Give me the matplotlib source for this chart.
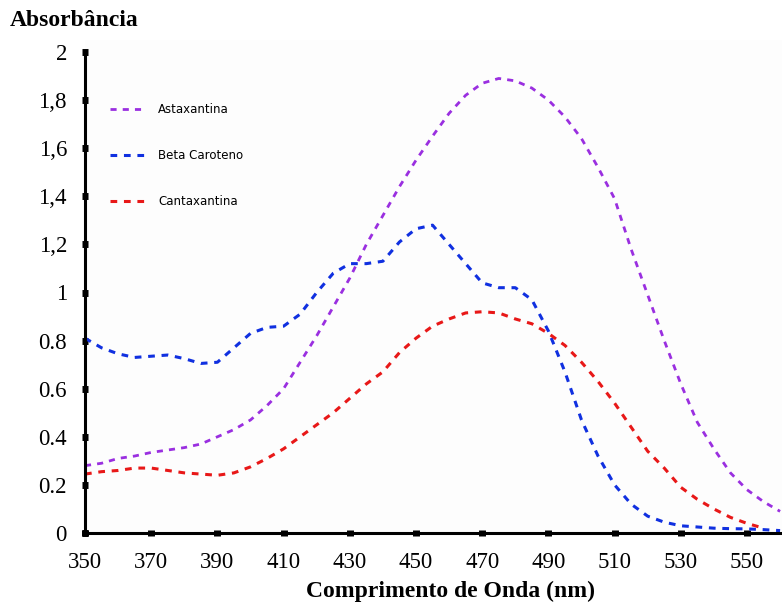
import matplotlib
matplotlib.use("Agg")
import matplotlib.pyplot as plt
import numpy as np

wavelength = [350, 355, 360, 365, 370, 375, 380, 385, 390, 395, 400, 405, 410, 415,
              420, 425, 430, 435, 440, 445, 450, 455, 460, 465, 470, 475, 480, 485,
              490, 495, 500, 505, 510, 515, 520, 525, 530, 535, 540, 545, 550, 555, 560]

astaxantina = [0.28, 0.29, 0.31, 0.32, 0.335, 0.345, 0.355, 0.37, 0.40, 0.43, 0.47, 0.53,
               0.60, 0.71, 0.82, 0.94, 1.06, 1.20, 1.32, 1.44, 1.55, 1.65, 1.745, 1.82,
               1.87, 1.89, 1.88, 1.85, 1.80, 1.73, 1.64, 1.52, 1.39, 1.18, 0.99, 0.80,
               0.62, 0.46, 0.35, 0.25, 0.18, 0.13, 0.09]

beta_caroteno = [0.81, 0.77, 0.745, 0.73, 0.735, 0.74, 0.725, 0.705, 0.71, 0.77, 0.83,
                 0.855, 0.86, 0.91, 1.00, 1.08, 1.12, 1.12, 1.13, 1.21, 1.265, 1.28, 1.20,
                 1.12, 1.04, 1.02, 1.02, 0.97, 0.84, 0.67, 0.47, 0.32, 0.20, 0.12, 0.07,
                 0.045, 0.03, 0.025, 0.02, 0.018, 0.017, 0.014, 0.01]

wavelength_cant = wavelength[:-1]
cantaxantina = [0.245, 0.255, 0.26, 0.27, 0.27, 0.26, 0.25, 0.245, 0.24, 0.25, 0.275,
                0.31, 0.35, 0.40, 0.45, 0.50, 0.56, 0.62, 0.67, 0.75, 0.81, 0.86, 0.89,
                0.915, 0.92, 0.915, 0.89, 0.87, 0.83, 0.78, 0.71, 0.63, 0.54, 0.44, 0.34,
                0.27, 0.19, 0.14, 0.10, 0.065, 0.04, 0.02]

xticks = [350, 370, 390, 410, 430, 450, 470, 490, 510, 530, 550]
yticks = [0, 0.2, 0.4, 0.6, 0.8, 1.0, 1.2, 1.4, 1.6, 1.8, 2.0]
ytick_labels = ["0", "0.2", "0.4", "0.6", "0.8", "1", "1,2", "1,4", "1,6", "1,8", "2"]

W, H = 782, 608
fig = plt.figure(figsize=(W / 100, H / 100), dpi=100)
ax = fig.add_axes([85 / W, (H - 533) / H, (W - 85) / W, (533 - 40) / H])
ax.set_facecolor("#fdfdfd")

ls = (0, (2.2, 2.2))
ax.plot(wavelength, astaxantina, color="#9a2fe0", lw=2.0, linestyle=ls, label="Astaxantina")
ax.plot(wavelength, beta_caroteno, color="#1030e0", lw=2.2, linestyle=ls, label="Beta Caroteno")
ax.plot(wavelength_cant, cantaxantina, color="#e81818", lw=2.2, linestyle=ls, label="Cantaxantina")

ax.set_xlim(350, 350 + (W - 85) / 3.31)
ax.set_ylim(0, 493 / 240.5)

for s in ["top", "right"]:
    ax.spines[s].set_visible(False)
ax.spines["left"].set_linewidth(2.2)
ax.spines["bottom"].set_linewidth(2.2)
ax.spines["left"].set_bounds(0, 2.0)

serif = ["Liberation Serif", "DejaVu Serif"]
ax.set_xticks(xticks)
ax.set_xticklabels([str(v) for v in xticks], family=serif, fontsize=16.5)
ax.set_yticks(yticks)
ax.set_yticklabels(ytick_labels, family=serif, fontsize=16.5)
ax.tick_params(axis="both", direction="inout", length=5, width=5, color="black")
ax.tick_params(axis="x", pad=11)
ax.tick_params(axis="y", pad=10.5)

ax.set_xlabel("Comprimento de Onda (nm)", family=serif, fontsize=17, fontweight="bold",
              labelpad=6, x=(450 - 85) / (W - 85))
fig.text(10 / W, 1 - 20 / H, "Absorbância", family=serif, fontsize=17, fontweight="bold",
         ha="left", va="center")

leg = ax.legend(loc="upper left", bbox_to_anchor=(110 / W, 1 - 103 / H),
                bbox_transform=fig.transFigure, frameon=False, borderpad=0,
                borderaxespad=0, handlelength=3.0, handletextpad=1.1, labelspacing=2.8,
                prop={"family": ["Liberation Sans Narrow", "DejaVu Sans"], "size": 8.5})

fig.savefig("out.png", dpi=100)
